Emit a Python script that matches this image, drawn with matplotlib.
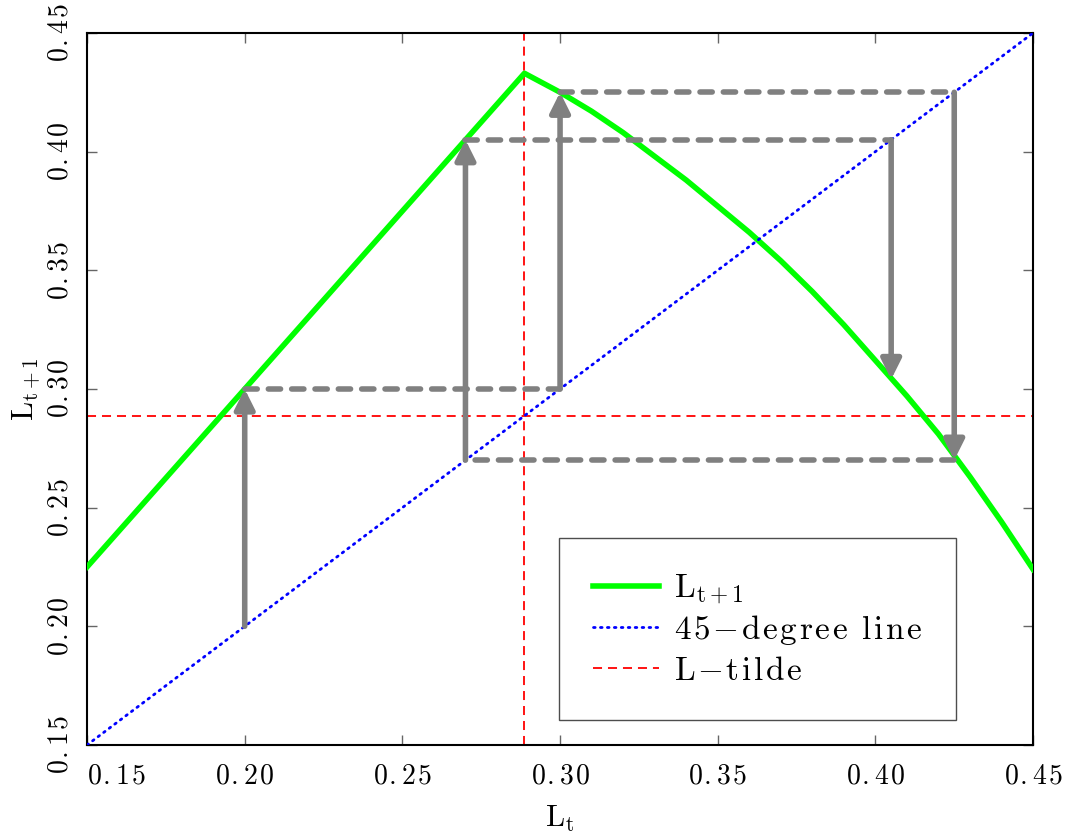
import numpy as np
import matplotlib
matplotlib.use('Agg')
import matplotlib.pyplot as plt

plt.rcParams['mathtext.fontset'] = 'cm'

# кривая L_{t+1} как функция L_t
L_now = [0.15, 0.2887, 0.30, 0.31, 0.32, 0.33, 0.34, 0.35, 0.36, 0.37,
         0.38, 0.39, 0.40, 0.41, 0.42, 0.43, 0.44, 0.45]
L_next = [0.225, 0.433, 0.425, 0.417, 0.408, 0.398, 0.388, 0.377, 0.366, 0.354,
          0.341, 0.327, 0.312, 0.297, 0.281, 0.263, 0.244, 0.224]

# паутинка: последовательные значения L_t
path = [0.20, 0.30, 0.425, 0.27, 0.405, 0.304]

L_tilde = 0.2887
diag = [0.15, 0.45]
xticks = [0.15, 0.20, 0.25, 0.30, 0.35, 0.40, 0.45]
yticks = [0.15, 0.20, 0.25, 0.30, 0.35, 0.40, 0.45]


def tex(s, gap=0.08):
    # разрядка букв, в оригинале шрифт шире обычного cm
    out = ''
    for k, c in enumerate(s):
        if c == ' ':
            c = r'\ '
        elif c == '-':
            c = '{-}'
        out += c
        if k < len(s) - 1 and s[k] != '.':
            out += r'\hspace{%.2f}' % gap
    return r'$\mathrm{' + out + '}$'


fig = plt.figure(figsize=(10.68, 8.38), dpi=100)
ax = fig.add_axes([0.0815, 0.111, 0.8858, 0.8497])

ax.plot(L_now, L_next, color='#00ff00', lw=4, label=r'$\mathrm{L_{t+1}}$', zorder=3)
ax.plot(diag, diag, color='blue', lw=2, ls=(0, (0.6, 1.9)), dash_capstyle='round',
        label=tex('45-degree line', 0.09), zorder=3)
ax.axvline(L_tilde, color='red', lw=1.3, ls=(0, (5, 3.3)), label=tex('L-tilde', 0.09), zorder=2)
ax.axhline(L_tilde, color='red', lw=1.3, ls=(0, (5, 3.3)), zorder=2)

# стрелки и пунктир
for i in range(len(path) - 1):
    a, b = path[i], path[i + 1]
    ax.annotate('', xy=(a, b), xytext=(a, a),
                arrowprops=dict(arrowstyle='-|>,head_width=0.3,head_length=0.6',
                                color='gray', lw=4, shrinkA=0, shrinkB=0,
                                mutation_scale=20, joinstyle='round'),
                zorder=4)
    if i < len(path) - 2:
        ax.plot([a, b], [b, b], color='gray', lw=4, ls=(0, (2.2, 2.0)),
                dash_capstyle='round', zorder=4)

ax.set_xlim(0.15, 0.45)
ax.set_ylim(0.15, 0.45)
ax.set_xticks(xticks, labels=[tex('%.2f' % t) for t in xticks])
ax.set_yticks(yticks, labels=[tex('%.2f' % t) for t in yticks])
ax.tick_params(direction='in', length=7, width=1, color='0.4', top=True, right=True,
               labelsize=20)
ax.tick_params(axis='x', pad=12)
ax.tick_params(axis='y', pad=10)
plt.setp(ax.get_yticklabels(), rotation=90, va='center')
ax.get_xticklabels()[0].set_horizontalalignment('left')
for s in ax.spines.values():
    s.set_linewidth(1.5)

ax.set_xlabel(r'$\mathrm{L_t}$', fontsize=22, labelpad=10)
ax.set_ylabel(r'$\mathrm{L_{t+1}}$', fontsize=22)
ax.yaxis.set_label_coords(-0.048, 0.5)

leg = ax.legend(loc='lower right', bbox_to_anchor=(0.9186, 0.035), borderaxespad=0,
                fontsize=24, fancybox=False, edgecolor='0.3', framealpha=1,
                handlelength=2.0, borderpad=1.0, labelspacing=0.2, handletextpad=0.45)
leg.get_frame().set_linewidth(1)

fig.savefig('out.png', dpi=100)
